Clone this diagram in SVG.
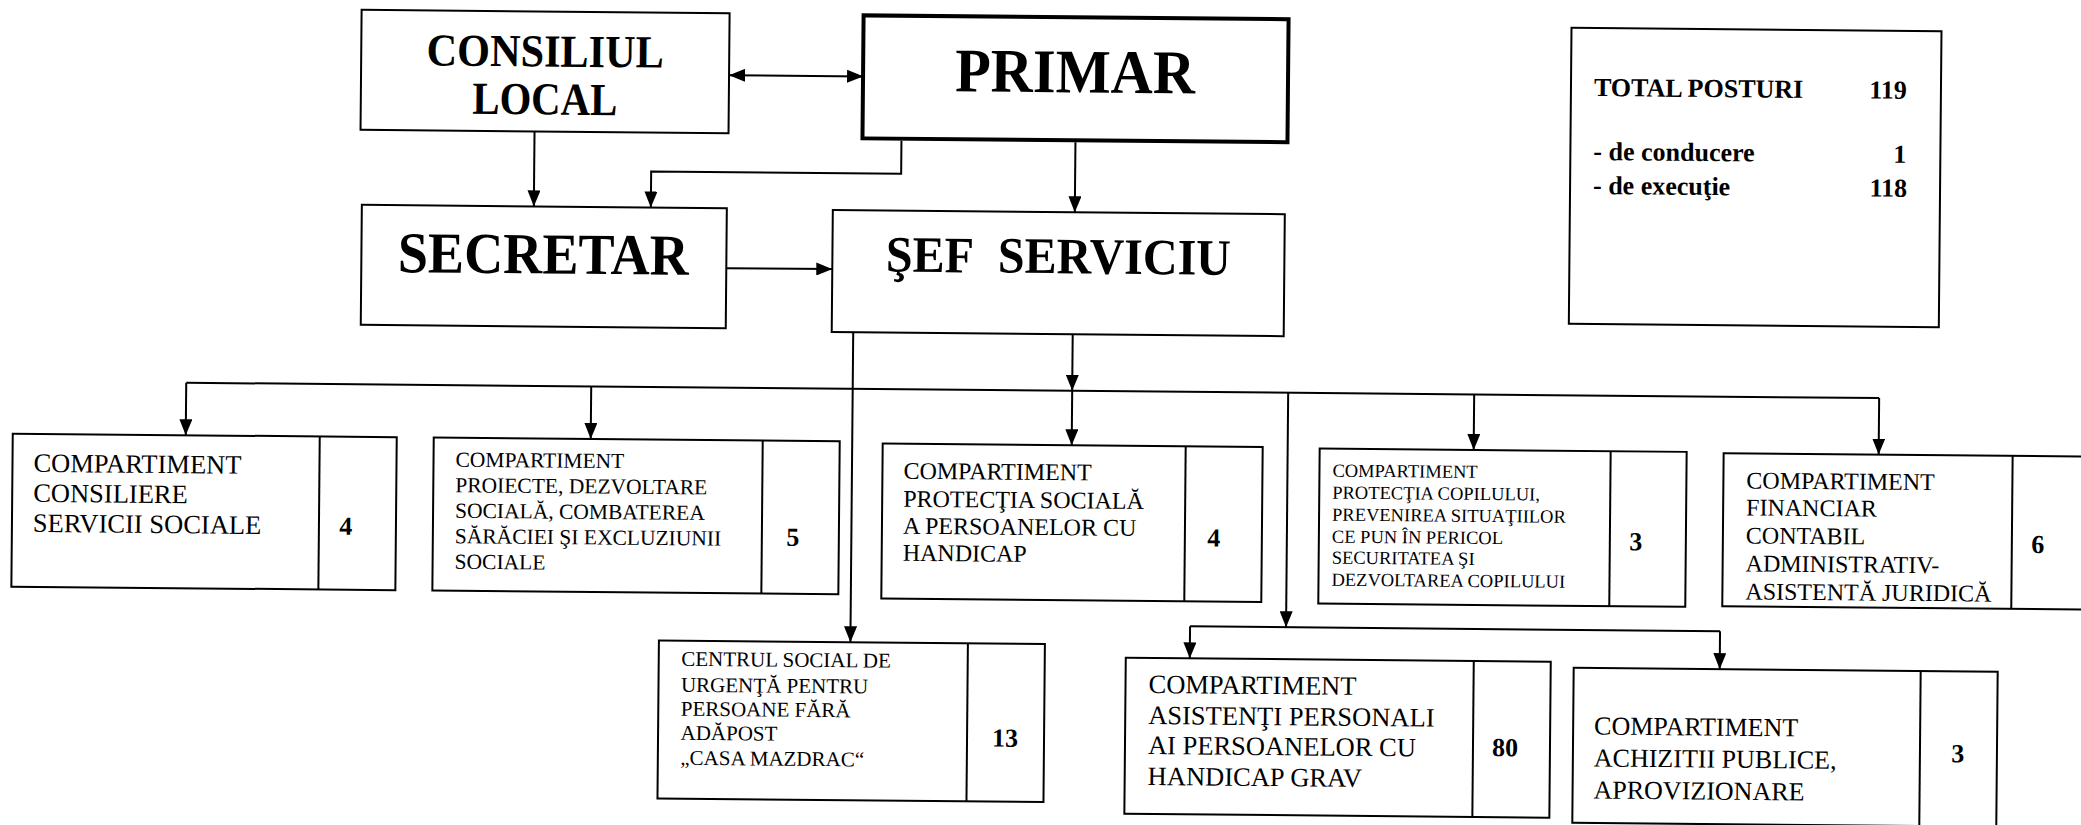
<svg xmlns="http://www.w3.org/2000/svg" width="2081" height="825" viewBox="0 0 2081 825">
<defs>
<marker id="ah" viewBox="0 0 16 13" refX="16" refY="6.5" markerWidth="16" markerHeight="13" markerUnits="userSpaceOnUse" orient="auto-start-reverse"><path d="M0,0 L16,6.5 L0,13 z" fill="#000"/></marker>
</defs>
<style>
.box{fill:#fff;stroke:#000;stroke-width:2}
.thick{stroke-width:4}
.ln{fill:none;stroke:#000;stroke-width:2}
.arr{marker-end:url(#ah)}
.dbl{marker-start:url(#ah);marker-end:url(#ah)}
text{font-family:"Liberation Serif","Times New Roman",serif;fill:#000}
.title{font-weight:bold;text-anchor:middle}
.num{font-weight:bold;text-anchor:middle;font-size:26px}
.tot{font-weight:bold;font-size:26px}
.end{text-anchor:end}
.f265{font-size:26.5px}
.f215{font-size:21.5px}
.f24{font-size:24px}
.f185{font-size:18.5px}
.f21{font-size:21px}
.f26{font-size:26px}
</style>
<rect width="2081" height="825" fill="#fff"/>
<g transform="rotate(0.52 1040 412)">
<g id="connectors">
<path class="ln dbl" d="M726,78 L860,78"/>
<path class="ln arr" d="M532,136 L532,211"/>
<path class="ln arr" d="M899,142 L899,175 L649,175 L649,211"/>
<path class="ln arr" d="M1073,142 L1073,212"/>
<path class="ln arr" d="M725,271 L831,271"/>
<path class="ln arr" d="M1072,334 L1072,390.5"/>
<path class="ln" d="M186,390.5 H1879"/>
<path class="ln arr" d="M186,390.5 V443"/>
<path class="ln arr" d="M591,390.5 V443"/>
<path class="ln arr" d="M1072,390.5 V445"/>
<path class="ln arr" d="M1474,390.5 V446"/>
<path class="ln arr" d="M1879,390.5 V447"/>
<path class="ln arr" d="M852.5,334 V644"/>
<path class="ln arr" d="M1288,390.5 V625"/>
<path class="ln" d="M1192,625 H1722"/>
<path class="ln arr" d="M1192,625 V657"/>
<path class="ln arr" d="M1722,625 V663"/>
</g>
<g id="consiliul-local">
<rect class="box" x="358" y="16" width="368" height="120"/>
<text class="title" x="542" y="71" font-size="46" textLength="237" lengthAdjust="spacingAndGlyphs">CONSILIUL</text>
<text class="title" x="542" y="119" font-size="46" textLength="145" lengthAdjust="spacingAndGlyphs">LOCAL</text>
</g>
<g id="primar">
<rect class="box thick" x="860" y="17" width="425" height="123"/>
<text class="title" x="1072" y="92" font-size="62" textLength="240" lengthAdjust="spacingAndGlyphs">PRIMAR</text>
</g>
<g id="secretar">
<rect class="box" x="360" y="211" width="365" height="120"/>
<text class="title" x="542" y="278" font-size="58" textLength="291" lengthAdjust="spacingAndGlyphs">SECRETAR</text>
</g>
<g id="sef-serviciu">
<rect class="box" x="831" y="212" width="452" height="122"/>
<text class="title" x="1057" y="273" font-size="51" textLength="345" lengthAdjust="spacingAndGlyphs">ŞEF&#160; SERVICIU</text>
</g>
<g id="total-posturi">
<rect class="box" x="1568" y="23" width="370" height="296"/>
<text class="tot" x="1591" y="91">TOTAL POSTURI</text>
<text class="tot end" x="1904" y="91">119</text>
<text class="tot" x="1591" y="155">- de conducere</text>
<text class="tot end" x="1904" y="155">1</text>
<text class="tot" x="1591" y="189">- de execuţie</text>
<text class="tot end" x="1905" y="189">118</text>
</g>
<g id="consiliere">
<rect class="box" x="13" y="443" width="384" height="153"/>
<path class="ln" d="M320,443 V596"/>
<text class="f265" x="34" y="481">COMPARTIMENT</text>
<text class="f265" x="34" y="511">CONSILIERE</text>
<text class="f265" x="34" y="541">SERVICII SOCIALE</text>
<text class="num" x="347" y="541">4</text>
</g>
<g id="proiecte">
<rect class="box" x="434" y="443" width="406" height="153"/>
<path class="ln" d="M763,443 V596"/>
<text class="f215" x="456" y="472">COMPARTIMENT</text>
<text class="f215" x="456" y="497.5">PROIECTE, DEZVOLTARE</text>
<text class="f215" x="456" y="523">SOCIALĂ,  COMBATEREA</text>
<text class="f215" x="456" y="548.5">SĂRĂCIEI  ŞI EXCLUZIUNII</text>
<text class="f215" x="456" y="574">SOCIALE</text>
<text class="num" x="794" y="548">5</text>
</g>
<g id="protectia-sociala">
<rect class="box" x="883" y="445" width="380" height="155"/>
<path class="ln" d="M1186,445 V600"/>
<text class="f24" x="904" y="480">COMPARTIMENT</text>
<text class="f24" x="904" y="508">PROTECŢIA SOCIALĂ</text>
<text class="f24" x="904" y="535">A PERSOANELOR  CU</text>
<text class="f24" x="904" y="562">HANDICAP</text>
<text class="num" x="1215" y="545">4</text>
</g>
<g id="protectia-copilului">
<rect class="box" x="1320" y="446" width="367" height="155"/>
<path class="ln" d="M1611,446 V601"/>
<text class="f185" x="1333" y="474">COMPARTIMENT</text>
<text class="f185" x="1333" y="496">PROTECŢIA COPILULUI,</text>
<text class="f185" x="1333" y="518">PREVENIREA SITUAŢIILOR</text>
<text class="f185" x="1333" y="540">CE PUN ÎN PERICOL</text>
<text class="f185" x="1333" y="561">SECURITATEA  ŞI</text>
<text class="f185" x="1333" y="583">DEZVOLTAREA  COPILULUI</text>
<text class="num" x="1637" y="545">3</text>
</g>
<g id="financiar">
<rect class="box" x="1724" y="447" width="380" height="153"/>
<path class="ln" d="M2013,447 V600"/>
<text class="f24" x="1747" y="482">COMPARTIMENT</text>
<text class="f24" x="1747" y="509">FINANCIAR</text>
<text class="f24" x="1747" y="537">CONTABIL</text>
<text class="f24" x="1747" y="565">ADMINISTRATIV-</text>
<text class="f24" x="1747" y="593">ASISTENTĂ JURIDICĂ</text>
<text class="num" x="2039" y="544">6</text>
</g>
<g id="centrul-social">
<rect class="box" x="661" y="644" width="386" height="158"/>
<path class="ln" d="M970,644 V802"/>
<text class="f21" x="683.5" y="669">CENTRUL SOCIAL DE</text>
<text class="f21" x="683.5" y="695">URGENŢĂ PENTRU</text>
<text class="f21" x="683.5" y="719">PERSOANE FĂRĂ</text>
<text class="f21" x="683.5" y="743">ADĂPOST</text>
<text class="f21" x="683.5" y="768">„CASA MAZDRAC“</text>
<text class="num" x="1008" y="747">13</text>
</g>
<g id="asistenti-personali">
<rect class="box" x="1128" y="657" width="425" height="156"/>
<path class="ln" d="M1476,657 V813"/>
<text class="f265" x="1151" y="692">COMPARTIMENT</text>
<text class="f265" x="1151" y="723">ASISTENŢI PERSONALI</text>
<text class="f265" x="1151" y="753">AI PERSOANELOR CU</text>
<text class="f265" x="1151" y="784">HANDICAP GRAV</text>
<text class="num" x="1508" y="752">80</text>
</g>
<g id="achizitii">
<rect class="box" x="1576" y="663" width="424" height="155"/>
<path class="ln" d="M1923,663 V818"/>
<text class="f26" x="1597" y="729.5">COMPARTIMENT</text>
<text class="f26" x="1597" y="761.5">ACHIZITII PUBLICE,</text>
<text class="f26" x="1597" y="793.5">APROVIZIONARE</text>
<text class="num" x="1961" y="754">3</text>
</g>
</g>
</svg>
